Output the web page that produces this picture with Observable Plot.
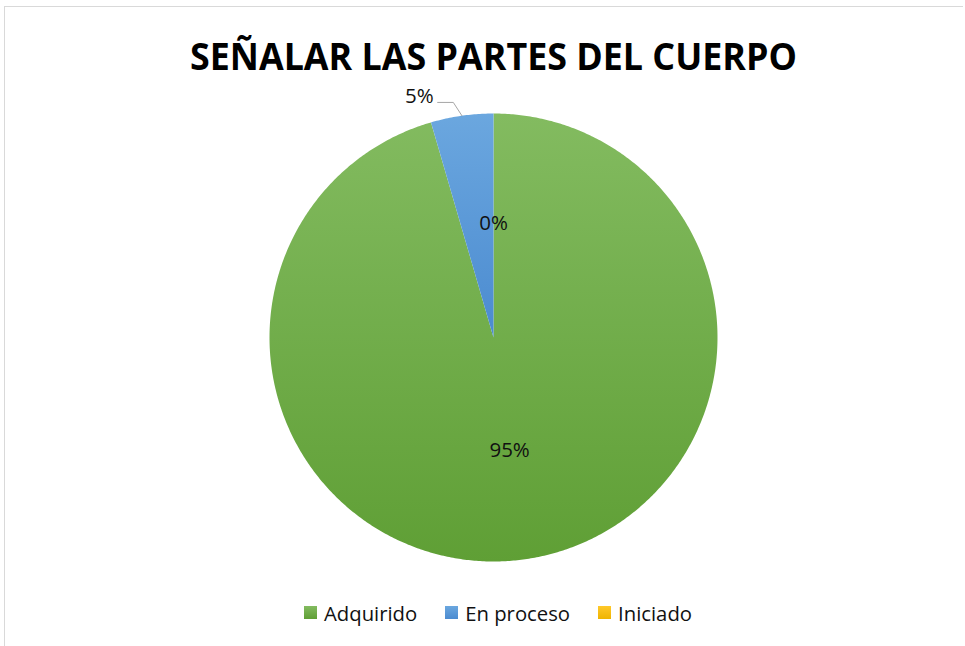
<!DOCTYPE html>
<html>
<head>
<meta charset="utf-8">
<script src="https://cdn.jsdelivr.net/npm/d3@7"></script>
<script src="https://cdn.jsdelivr.net/npm/@observablehq/plot@0.6"></script>
<style>
  body { margin: 0; background: #fff; }
  #wrap { position: relative; width: 965px; height: 646px; overflow: hidden; font-family: "Open Sans", sans-serif; background: #fff; }
  #frame { position: absolute; left: 4px; top: 6px; width: 959px; height: 700px; border-top: 1.5px solid #d9d9d9; border-left: 1.5px solid #d9d9d9; box-sizing: border-box; }
  #titleBox { position: absolute; left: 0; top: 0; }
  #plotBox { position: absolute; left: 0; top: 100px; }
  #legendBox { position: absolute; left: 304px; top: 596px; }
</style>
</head>
<body>
<div id="wrap">
  <div id="frame"></div>
  <div id="titleBox"></div>
  <div id="plotBox"></div>
  <div id="legendBox"></div>
</div>
<script>
// ---- data ----
const title = "SEÑALAR LAS PARTES DEL CUERPO";
const categories = ["Adquirido", "En proceso", "Iniciado"];
const values = [95.5, 4.5, 0];
const labels = ["95%", "5%", "0%"];
const labelOutside = [false, true, false];
const gradientTop = ["#83bb60", "#6ba7df", "#ffc82a"];
const gradientBottom = ["#5f9f35", "#4b8bd0", "#efb400"];

// ---- title ----
const tsvg = d3.select("#titleBox").append("svg").attr("width", 965).attr("height", 100);
tsvg.append("text")
  .attr("x", 493.5).attr("y", 70)
  .attr("text-anchor", "middle")
  .attr("font-family", "'Open Sans', sans-serif")
  .attr("font-weight", 700)
  .attr("font-size", 38)
  .attr("fill", "#000")
  .attr("textLength", 607)
  .attr("lengthAdjust", "spacingAndGlyphs")
  .text(title);

// ---- pie geometry from data ----
const ids = categories.map((c, i) => "grad" + i);
const arcs = d3.pie().sort(null).value(d => d)(values);
const slicePts = [];
arcs.forEach((a, i) => {
  slicePts.push({cat: categories[i], x: 0, y: 0});
  const n = Math.max(2, Math.ceil((a.endAngle - a.startAngle) / (Math.PI / 360)));
  for (let k = 0; k <= n; k++) {
    const t = a.startAngle + (a.endAngle - a.startAngle) * k / n;
    slicePts.push({cat: categories[i], x: Math.sin(t), y: Math.cos(t)});
  }
  slicePts.push({cat: categories[i], x: 0, y: 0});
});

const inLabels = [];
const outLabels = [];
const leaders = [];
arcs.forEach((a, i) => {
  const m = (a.startAngle + a.endAngle) / 2;
  if (!labelOutside[i]) {
    inLabels.push({x: 0.51 * Math.sin(m), y: 0.51 * Math.cos(m), text: labels[i]});
  } else {
    const ex = Math.sin(m), ey = Math.cos(m);
    const bx = 1.06 * Math.sin(m) - 0.03, by = 1.06 * Math.cos(m);
    const hx = bx - 0.07;
    leaders.push({x: ex, y: ey}, {x: bx, y: by}, {x: hx, y: by});
    outLabels.push({x: hx, y: by, text: labels[i]});
  }
});

const defs = () => {
  const d = d3.create("svg:defs");
  ids.forEach((id, i) => {
    const g = d.append("linearGradient").attr("id", id)
      .attr("x1", 0).attr("y1", 0).attr("x2", 0).attr("y2", 1);
    g.append("stop").attr("offset", "0%").attr("stop-color", gradientTop[i]);
    g.append("stop").attr("offset", "100%").attr("stop-color", gradientBottom[i]);
  });
  return d.node();
};

const plot = Plot.plot({
  width: 965,
  height: 480,
  margin: 0,
  style: {background: "transparent", fontFamily: "'Open Sans', sans-serif", overflow: "visible"},
  x: {domain: [-1, 1], range: [269, 717], axis: null},
  y: {domain: [-1, 1], range: [461, 13], axis: null},
  color: {domain: categories, range: ids.map(id => `url(#${id})`)},
  marks: [
    defs,
    Plot.line(slicePts, {x: "x", y: "y", z: "cat", fill: "cat", stroke: "none", curve: "linear"}),
    Plot.line(leaders, {x: "x", y: "y", stroke: "#a6a6a6", strokeWidth: 1, curve: "linear"}),
    Plot.text(inLabels, {x: "x", y: "y", text: "text", fontSize: 20.5, fill: "#111"}),
    Plot.text(outLabels, {x: "x", y: "y", text: "text", fontSize: 20.5, fill: "#111", textAnchor: "end", dx: -4, dy: -6})
  ]
});
document.getElementById("plotBox").appendChild(plot);

// ---- legend ----
const legend = plot.legend("color", {swatchSize: 13, style: {fontSize: "20.3px", fontFamily: "'Open Sans', sans-serif", color: "#111", background: "transparent"}});
document.getElementById("legendBox").appendChild(legend);
d3.select(legend).selectAll("span").style("margin-right", "28px").style("margin-left", "0");
d3.select(legend).selectAll("span > svg").style("margin-right", "7px");
</script>
</body>
</html>
